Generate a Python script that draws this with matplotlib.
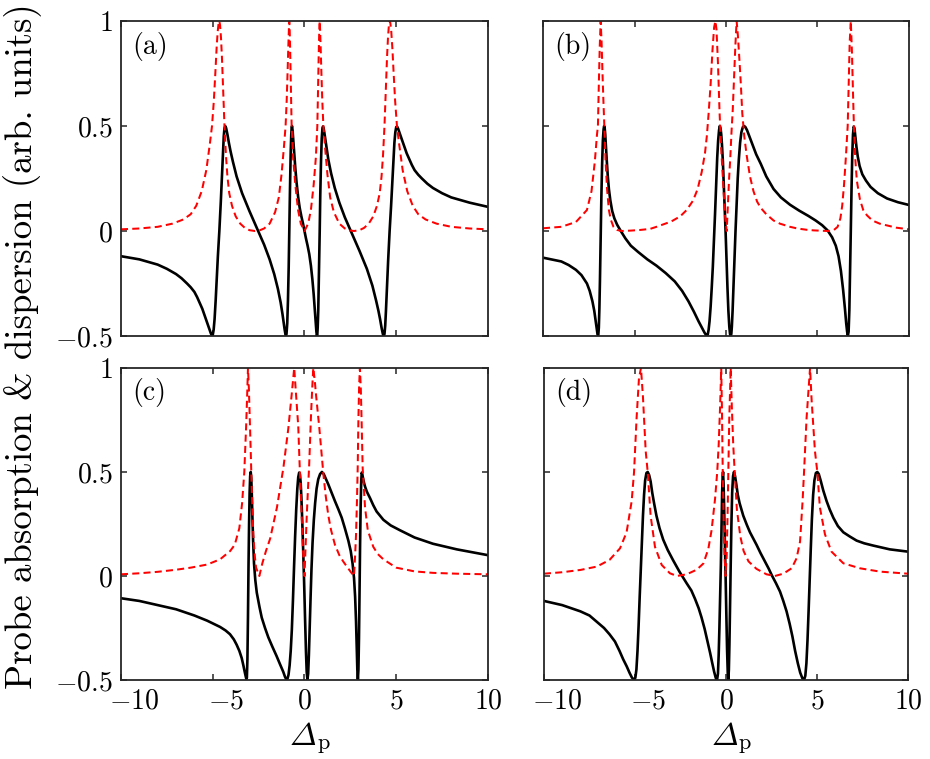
import matplotlib
matplotlib.use("Agg")
import matplotlib.pyplot as plt
import matplotlib.transforms as mtransforms

# ---- curves ----
# (a)
a_x_disp = [-10, -9, -8, -7.5, -7, -6.7, -6.4, -6.2, -6.0, -5.85, -5.7, -5.57, -5.45, -5.35, -5.25, -5.17,
            -5.1, -5.05, -5.0, -4.95, -4.9, -4.84, -4.78, -4.72, -4.64, -4.56, -4.49, -4.44, -4.4, -4.36,
            -4.32, -4.27, -4.2, -4.12, -4.03, -3.9, -3.7, -3.4, -3.0, -2.7, -2.5, -2.2, -1.9, -1.65, -1.45,
            -1.3, -1.2, -1.13, -1.08, -1.04, -1.01, -0.98, -0.94, -0.9, -0.86, -0.83, -0.79, -0.75, -0.72,
            -0.7, -0.68, -0.65, -0.61, -0.56, -0.5, -0.43, -0.35, -0.26, -0.17, -0.08, 0,
            0.08, 0.17, 0.26, 0.35, 0.43, 0.5, 0.56, 0.61, 0.65, 0.68, 0.7, 0.72, 0.75, 0.79, 0.83, 0.86,
            0.9, 0.94, 0.98, 1.01, 1.04, 1.08, 1.13, 1.2, 1.3, 1.45, 1.65, 1.9, 2.2, 2.5, 2.7, 3.0, 3.4,
            3.7, 3.9, 4.03, 4.12, 4.2, 4.27, 4.32, 4.36, 4.4, 4.44, 4.49, 4.56, 4.64, 4.72, 4.78, 4.84, 4.9,
            4.95, 5.0, 5.05, 5.1, 5.17, 5.25, 5.35, 5.45, 5.57, 5.7, 5.85, 6.0, 6.2, 6.4, 6.7, 7, 7.5, 8,
            9, 10]
a_disp = [-0.12, -0.135, -0.16, -0.18, -0.205, -0.225, -0.25, -0.268, -0.29, -0.315, -0.345, -0.37, -0.40,
          -0.425, -0.45, -0.47, -0.488, -0.497, -0.495, -0.47, -0.42, -0.33, -0.22, -0.12, 0.0, 0.14,
          0.28, 0.38, 0.45, 0.49, 0.50, 0.49, 0.46, 0.42, 0.38, 0.33, 0.26, 0.18, 0.095, 0.035, -0.005,
          -0.065, -0.135, -0.205, -0.275, -0.34, -0.395, -0.44, -0.47, -0.49, -0.498, -0.49, -0.44, -0.33,
          -0.17, 0.0, 0.2, 0.38, 0.46, 0.49, 0.50, 0.48, 0.43, 0.37, 0.30, 0.23, 0.165, 0.11, 0.07, 0.035,
          0.0,
          -0.035, -0.07, -0.11, -0.165, -0.23, -0.30, -0.37, -0.43, -0.48, -0.50, -0.49, -0.46, -0.38,
          -0.2, 0.0, 0.17, 0.33, 0.44, 0.49, 0.498, 0.49, 0.47, 0.44, 0.395, 0.34, 0.275, 0.205, 0.135,
          0.065, 0.005, -0.035, -0.095, -0.18, -0.26, -0.33, -0.38, -0.42, -0.46, -0.49, -0.50, -0.49,
          -0.45, -0.38, -0.28, -0.14, 0.0, 0.12, 0.22, 0.33, 0.42, 0.47, 0.495, 0.497, 0.488, 0.47, 0.45,
          0.425, 0.40, 0.37, 0.345, 0.315, 0.29, 0.268, 0.25, 0.225, 0.205, 0.18, 0.16, 0.135, 0.115]
a_x_abs = [-10, -9, -8, -7.2, -6.6, -6.2, -5.9, -5.6, -5.35, -5.15, -5.04, -4.94, -4.86, -4.79, -4.73,
           -4.68, -4.64, -4.6, -4.55, -4.5, -4.44, -4.36, -4.28, -4.2, -4.1, -3.95, -3.75, -3.5, -3.25,
           -3.0, -2.7, -2.45, -2.2, -1.9, -1.6, -1.4, -1.25, -1.12, -1.03, -0.97, -0.92, -0.88, -0.85,
           -0.83, -0.81, -0.78, -0.74, -0.70, -0.62, -0.5, -0.35, -0.2, 0,
           0.2, 0.35, 0.5, 0.62, 0.70, 0.74, 0.78, 0.81, 0.83, 0.85, 0.88, 0.92, 0.97, 1.03, 1.12, 1.25,
           1.4, 1.6, 1.9, 2.2, 2.45, 2.7, 3.0, 3.25, 3.5, 3.75, 3.95, 4.1, 4.2, 4.28, 4.36, 4.44, 4.5,
           4.55, 4.6, 4.64, 4.68, 4.73, 4.79, 4.86, 4.94, 5.04, 5.15, 5.35, 5.6, 5.9, 6.2, 6.6, 7.2, 8, 9,
           10]
a_abs = [0.008, 0.012, 0.02, 0.035, 0.055, 0.08, 0.12, 0.19, 0.29, 0.42, 0.50, 0.62, 0.75, 0.87, 0.95,
         0.99, 1.0, 0.98, 0.92, 0.83, 0.69, 0.50, 0.36, 0.26, 0.18, 0.12, 0.07, 0.035, 0.015, 0.004, 0.0,
         0.003, 0.012, 0.035, 0.09, 0.16, 0.27, 0.40, 0.50, 0.62, 0.76, 0.88, 0.96, 1.0, 0.97, 0.86,
         0.68, 0.50, 0.35, 0.22, 0.10, 0.035, 0.0,
         0.035, 0.10, 0.22, 0.35, 0.50, 0.68, 0.86, 0.97, 1.0, 0.96, 0.88, 0.76, 0.62, 0.50, 0.40, 0.27,
         0.16, 0.09, 0.035, 0.012, 0.003, 0.0, 0.004, 0.015, 0.035, 0.07, 0.12, 0.18, 0.26, 0.36, 0.50,
         0.69, 0.83, 0.92, 0.98, 1.0, 0.99, 0.95, 0.87, 0.75, 0.62, 0.50, 0.42, 0.29, 0.19, 0.12, 0.08,
         0.055, 0.035, 0.02, 0.012, 0.008]

# (b)
b_x_disp = [-10, -9, -8.6, -8.2, -7.9, -7.6, -7.45, -7.3, -7.2, -7.12, -7.06, -7.02, -6.98, -6.95, -6.92,
            -6.89, -6.85, -6.81, -6.77, -6.73, -6.69, -6.66, -6.63, -6.6, -6.56, -6.52, -6.46, -6.4, -6.32,
            -6.22, -6.1, -5.95, -5.75, -5.5, -5.2, -4.8, -4.3, -3.8, -3.3, -2.8, -2.4, -2.05, -1.75, -1.5,
            -1.32, -1.18, -1.1, -1.05, -1.0, -0.95, -0.9, -0.84, -0.78, -0.72, -0.66, -0.6, -0.54, -0.48,
            -0.43, -0.38, -0.34, -0.3, -0.26, -0.22, -0.17, -0.12, -0.07, -0.02, 0.03, 0.08, 0.13, 0.18,
            0.22, 0.26, 0.29, 0.32, 0.36, 0.41, 0.46, 0.52, 0.58, 0.64, 0.7, 0.77, 0.84, 0.92, 0.99, 1.06,
            1.15, 1.28, 1.45, 1.65, 1.9, 2.2, 2.6, 3.0, 3.5, 4.0, 4.5, 4.9, 5.25, 5.55, 5.8, 6.0, 6.15,
            6.28, 6.4, 6.5, 6.57, 6.62, 6.66, 6.7, 6.74, 6.78, 6.82, 6.86, 6.9, 6.94, 6.98, 7.02, 7.07,
            7.13, 7.2, 7.3, 7.45, 7.65, 7.9, 8.3, 8.8, 9.4, 10]
b_disp = [-0.127, -0.145, -0.162, -0.185, -0.21, -0.25, -0.285, -0.335, -0.38, -0.43, -0.47, -0.493,
          -0.495, -0.46, -0.37, -0.24, -0.02, 0.17, 0.32, 0.43, 0.485, 0.50, 0.49, 0.46, 0.40, 0.34,
          0.26, 0.20, 0.145, 0.095, 0.06, 0.03, 0.0, -0.035, -0.07, -0.10, -0.135, -0.165, -0.20, -0.24,
          -0.285, -0.335, -0.385, -0.43, -0.46, -0.483, -0.494, -0.499, -0.494, -0.47, -0.43, -0.36,
          -0.27, -0.17, -0.05, 0.08, 0.22, 0.35, 0.43, 0.48, 0.50, 0.49, 0.46, 0.41, 0.33, 0.22, 0.11,
          -0.01, -0.14, -0.27, -0.38, -0.455, -0.49, -0.50, -0.49, -0.455, -0.38, -0.26, -0.14, 0.0,
          0.13, 0.25, 0.34, 0.42, 0.47, 0.495, 0.50, 0.495, 0.48, 0.45, 0.41, 0.365, 0.32, 0.26, 0.20,
          0.16, 0.125, 0.097, 0.072, 0.05, 0.028, 0.003, -0.03, -0.07, -0.12, -0.19, -0.28, -0.37, -0.44,
          -0.48, -0.497, -0.48, -0.38, -0.20, 0.0, 0.20, 0.36, 0.46, 0.497, 0.49, 0.45, 0.40, 0.355,
          0.31, 0.27, 0.24, 0.21, 0.18, 0.155, 0.137, 0.124]
b_x_abs = [-10, -9, -8.2, -7.6, -7.35, -7.17, -7.05, -7.0, -6.95, -6.9, -6.85, -6.8, -6.75, -6.7, -6.65,
           -6.58, -6.5, -6.4, -6.3, -6.15, -5.95, -5.7, -5.2, -4.7, -4.15, -3.8, -3.0, -2.5, -2.15, -1.8,
           -1.55, -1.33, -1.15, -1.05, -0.95, -0.84, -0.74, -0.65, -0.58, -0.52, -0.44, -0.35, -0.27,
           -0.19, -0.11, -0.04, 0.04, 0.1, 0.17, 0.24, 0.3, 0.37, 0.44, 0.51, 0.58, 0.65, 0.73, 0.81, 0.89,
           1.0, 1.13, 1.31, 1.5, 1.7, 1.9, 2.2, 2.6, 2.95, 3.5, 3.9, 4.4, 4.8, 5.3, 5.6, 5.9, 6.1, 6.25,
           6.35, 6.45, 6.55, 6.65, 6.7, 6.76, 6.82, 6.88, 6.94, 6.99, 7.06, 7.15, 7.32, 7.5, 7.7, 8.0,
           8.4, 9.3, 10]
b_abs = [0.013, 0.02, 0.043, 0.10, 0.19, 0.33, 0.46, 0.50, 0.70, 0.88, 1.0, 0.90, 0.75, 0.62, 0.50,
         0.33, 0.20, 0.10, 0.055, 0.02, 0.005, 0.0, 0.002, 0.005, 0.01, 0.02, 0.045, 0.07, 0.10, 0.145,
         0.20, 0.28, 0.37, 0.45, 0.56, 0.70, 0.86, 0.97, 1.0, 0.96, 0.80, 0.56, 0.40, 0.28, 0.16, 0.06,
         0.0, 0.12, 0.25, 0.36, 0.47, 0.58, 0.73, 0.88, 1.0, 0.93, 0.82, 0.70, 0.56, 0.45, 0.36, 0.26,
         0.19, 0.14, 0.11, 0.08, 0.05, 0.035, 0.02, 0.012, 0.006, 0.003, 0.001, 0.0, 0.005, 0.02, 0.06,
         0.12, 0.22, 0.35, 0.50, 0.68, 0.90, 1.0, 0.86, 0.66, 0.50, 0.35, 0.24, 0.15, 0.10, 0.075, 0.05,
         0.035, 0.016, 0.008]

# (c)
c_x_disp = [-10, -9, -8, -7, -6, -5.3, -4.6, -4.3, -4.06, -3.85, -3.7, -3.55, -3.42, -3.33, -3.26, -3.21,
            -3.17, -3.14, -3.11, -3.08, -3.05, -3.02, -2.99, -2.96, -2.93, -2.9, -2.87, -2.84, -2.8, -2.75,
            -2.68, -2.6, -2.45, -2.33, -2.15, -1.97, -1.75, -1.52, -1.33, -1.16, -1.06, -0.99, -0.93,
            -0.87, -0.81, -0.75, -0.69, -0.63, -0.57, -0.51, -0.45, -0.39, -0.34, -0.29, -0.25, -0.21,
            -0.17, -0.12, -0.07, -0.02, 0.03, 0.08, 0.12, 0.16, 0.2, 0.24, 0.28, 0.33, 0.38, 0.44, 0.51,
            0.58, 0.66, 0.75, 0.85, 0.95, 1.05, 1.15, 1.3, 1.48, 1.66, 1.85, 2.03, 2.2, 2.39, 2.52, 2.62,
            2.7, 2.76, 2.81, 2.85, 2.88, 2.91, 2.94, 2.97, 3.0, 3.03, 3.06, 3.09, 3.12, 3.15, 3.19, 3.24,
            3.3, 3.4, 3.57, 3.75, 3.93, 4.3, 4.7, 5.2, 6.0, 7.0, 8.3, 10]
c_disp = [-0.107, -0.12, -0.14, -0.16, -0.19, -0.215, -0.245, -0.262, -0.28, -0.305, -0.33, -0.36, -0.395,
          -0.43, -0.46, -0.48, -0.495, -0.49, -0.40, -0.20, 0.05, 0.25, 0.40, 0.48, 0.50, 0.47, 0.39,
          0.29, 0.17, 0.06, -0.02, -0.08, -0.15, -0.20, -0.25, -0.295, -0.34, -0.385, -0.425, -0.46,
          -0.485, -0.497, -0.495, -0.475, -0.43, -0.36, -0.26, -0.12, 0.04, 0.19, 0.32, 0.42, 0.475,
          0.497, 0.49, 0.45, 0.38, 0.26, 0.12, -0.03, -0.20, -0.36, -0.46, -0.497, -0.47, -0.38, -0.26,
          -0.11, 0.03, 0.16, 0.27, 0.35, 0.42, 0.465, 0.49, 0.50, 0.49, 0.47, 0.44, 0.40, 0.36, 0.32,
          0.28, 0.23, 0.17, 0.12, 0.06, -0.01, -0.10, -0.22, -0.35, -0.45, -0.497, -0.45, -0.30, -0.08,
          0.15, 0.33, 0.45, 0.497, 0.49, 0.47, 0.45, 0.43, 0.405, 0.375, 0.34, 0.31, 0.27, 0.243, 0.22,
          0.185, 0.155, 0.128, 0.10]
c_x_abs = [-10, -9, -8, -7, -6.2, -5.3, -4.6, -4.05, -3.8, -3.55, -3.4, -3.28, -3.18, -3.12, -3.08, -3.03,
           -2.97, -2.93, -2.88, -2.83, -2.79, -2.7, -2.64, -2.46, -2.3, -2.1, -1.87, -1.5, -1.15, -0.88,
           -0.7, -0.56, -0.45, -0.34, -0.25, -0.15, -0.07, 0.0, 0.06, 0.12, 0.18, 0.25, 0.35, 0.42, 0.48,
           0.56, 0.63, 0.72, 0.81, 0.92, 1.03, 1.15, 1.3, 1.45, 1.66, 1.9, 2.11, 2.35, 2.57, 2.7, 2.76,
           2.81, 2.86, 2.9, 2.94, 2.98, 3.02, 3.07, 3.11, 3.17, 3.3, 3.45, 3.75, 4.0, 4.3, 5.0, 6.0, 7.0,
           8.3, 10]
c_abs = [0.008, 0.013, 0.02, 0.03, 0.04, 0.055, 0.08, 0.12, 0.15, 0.23, 0.35, 0.50, 0.72, 0.88, 1.0,
         0.90, 0.72, 0.60, 0.44, 0.30, 0.20, 0.09, 0.04, 0.0, 0.06, 0.12, 0.18, 0.33, 0.52, 0.71, 0.87,
         1.0, 0.86, 0.72, 0.50, 0.28, 0.10, 0.0, 0.14, 0.28, 0.40, 0.52, 0.76, 0.90, 1.0, 0.94, 0.87,
         0.79, 0.71, 0.60, 0.49, 0.39, 0.29, 0.22, 0.15, 0.10, 0.07, 0.04, 0.014, 0.0, 0.10, 0.20,
         0.36, 0.52, 0.76, 0.92, 1.0, 0.90, 0.76, 0.52, 0.33, 0.22, 0.14, 0.105, 0.08, 0.04, 0.022,
         0.015, 0.011, 0.008]

# (d)
d_x_disp = [-10, -9, -8, -7.5, -7.1, -6.7, -6.4, -6.1, -5.85, -5.65, -5.45, -5.3, -5.17, -5.07, -4.98,
            -4.92, -4.86, -4.8, -4.74, -4.68, -4.62, -4.56, -4.5, -4.44, -4.37, -4.3, -4.22, -4.14, -4.05,
            -3.95, -3.82, -3.65, -3.45, -3.2, -2.9, -2.55, -2.16, -1.9, -1.7, -1.5, -1.34, -1.17, -1.0,
            -0.87, -0.75, -0.65, -0.56, -0.49, -0.44, -0.4, -0.36, -0.32, -0.28, -0.24, -0.21, -0.18,
            -0.16, -0.13, -0.1, -0.06, -0.02, 0.02, 0.06, 0.1, 0.13, 0.16, 0.19, 0.22, 0.26, 0.3, 0.34,
            0.39, 0.44, 0.5, 0.57, 0.65, 0.75, 0.95, 1.15, 1.32, 1.5, 1.68, 1.9, 2.14, 2.35, 2.51, 2.75,
            2.97, 3.15, 3.33, 3.5, 3.65, 3.8, 3.95, 4.08, 4.2, 4.29, 4.36, 4.42, 4.48, 4.54, 4.6, 4.66,
            4.72, 4.79, 4.86, 4.94, 5.02, 5.1, 5.2, 5.35, 5.53, 5.7, 5.9, 6.15, 6.45, 6.8, 7.18, 7.6, 8.1,
            9.0, 10]
d_disp = [-0.12, -0.14, -0.17, -0.19, -0.22, -0.25, -0.28, -0.315, -0.36, -0.40, -0.435, -0.465, -0.488,
          -0.498, -0.49, -0.45, -0.36, -0.24, -0.10, 0.03, 0.16, 0.29, 0.39, 0.46, 0.495, 0.50, 0.485,
          0.455, 0.40, 0.35, 0.29, 0.23, 0.175, 0.125, 0.075, 0.02, -0.035, -0.07, -0.11, -0.155, -0.20,
          -0.255, -0.32, -0.37, -0.42, -0.46, -0.49, -0.50, -0.47, -0.38, -0.25, -0.10, 0.05, 0.25, 0.40,
          0.48, 0.50, 0.44, 0.33, 0.16, 0.0, -0.18, -0.35, -0.47, -0.50, -0.45, -0.33, -0.17, 0.05, 0.25,
          0.40, 0.48, 0.50, 0.48, 0.44, 0.39, 0.35, 0.29, 0.245, 0.21, 0.18, 0.15, 0.11, 0.07, 0.035,
          0.005, -0.035, -0.075, -0.12, -0.17, -0.23, -0.29, -0.36, -0.42, -0.465, -0.492, -0.50, -0.48,
          -0.42, -0.31, -0.17, -0.02, 0.13, 0.27, 0.39, 0.46, 0.495, 0.50, 0.49, 0.46, 0.41, 0.36, 0.32,
          0.28, 0.24, 0.21, 0.19, 0.17, 0.157, 0.146, 0.128, 0.117]
d_x_abs = [-10, -9, -8, -7.1, -6.4, -5.82, -5.46, -5.18, -5.05, -4.91, -4.78, -4.67, -4.56, -4.41, -4.3,
           -4.14, -3.9, -3.53, -3.08, -2.7, -2.16, -1.61, -1.24, -0.97, -0.79, -0.6, -0.48, -0.4, -0.32,
           -0.26, -0.22, -0.18, -0.13, -0.08, -0.02, 0.04, 0.09, 0.13, 0.18, 0.26, 0.32, 0.4, 0.48, 0.6,
           0.79, 0.97, 1.24, 1.68, 2.23, 2.69, 3.15, 3.61, 3.88, 4.07, 4.21, 4.29, 4.43, 4.62, 4.71,
           4.89, 5.02, 5.16, 5.44, 5.8, 6.45, 7.36, 8.46, 10]
d_abs = [0.011, 0.018, 0.029, 0.045, 0.077, 0.133, 0.21, 0.36, 0.50, 0.76, 0.95, 1.0, 0.86, 0.60, 0.50,
         0.29, 0.14, 0.053, 0.013, 0.0, 0.008, 0.03, 0.06, 0.13, 0.22, 0.37, 0.50, 0.63, 0.82, 1.0,
         0.80, 0.52, 0.28, 0.10, 0.0, 0.10, 0.30, 0.50, 0.75, 1.0, 0.82, 0.63, 0.50, 0.32, 0.19, 0.12,
         0.07, 0.034, 0.008, 0.0, 0.011, 0.037, 0.085, 0.165, 0.36, 0.50, 0.76, 1.0, 0.84, 0.60, 0.50,
         0.33, 0.20, 0.117, 0.061, 0.037, 0.021, 0.011]

panel_tags = ['(a)', '(b)', '(c)', '(d)']
x_ticks = [-10, -5, 0, 5, 10]
x_ticklabels = [r'$-10$', r'$-5$', r'$0$', r'$5$', r'$10$']
y_ticks = [-0.5, 0, 0.5, 1]
y_ticklabels = [r'$-0.5$', r'$0$', r'$0.5$', r'$1$']

plt.rcParams['mathtext.fontset'] = 'cm'
plt.rcParams['font.family'] = 'serif'
plt.rcParams['font.serif'] = ['cmr10', 'DejaVu Serif']
plt.rcParams['axes.formatter.use_mathtext'] = True

spine_col = '#262626'
fig = plt.figure(figsize=(9.3, 7.59), dpi=100)

rects = [[0.1301, 0.5573, 0.3946, 0.4150],
         [0.5839, 0.5573, 0.3935, 0.4150],
         [0.1301, 0.1041, 0.3946, 0.4111],
         [0.5849, 0.1041, 0.3914, 0.4111]]
curves = [(a_x_disp, a_disp, a_x_abs, a_abs),
          (b_x_disp, b_disp, b_x_abs, b_abs),
          (c_x_disp, c_disp, c_x_abs, c_abs),
          (d_x_disp, d_disp, d_x_abs, d_abs)]

for i, (rect, (xd, yd, xa, ya)) in enumerate(zip(rects, curves)):
    ax = fig.add_axes(rect)
    ax.plot(xd, yd, color='k', lw=1.9, solid_joinstyle='round')
    ax.plot(xa, ya, color='r', lw=1.45, dashes=(3.5, 2.1))
    ax.set_xlim(-10, 10)
    ax.set_ylim(-0.5, 1)
    for s in ax.spines.values():
        s.set_color(spine_col)
        s.set_linewidth(1.3)
    ax.tick_params(direction='in', length=4, width=1.1, color=spine_col, top=True, right=True,
                   labelsize=20, pad=6)
    ax.set_xticks(x_ticks)
    ax.set_yticks(y_ticks)
    if i >= 2:
        ax.set_xticklabels(x_ticklabels)
        # negative labels sit a bit to the right in the original
        for lab, v in zip(ax.get_xticklabels(), x_ticks):
            if v < 0:
                lab.set_transform(lab.get_transform() +
                                  mtransforms.ScaledTranslation(0.13, 0, fig.dpi_scale_trans))
    else:
        ax.set_xticklabels([])
    if i % 2 == 0:
        ax.set_yticklabels(y_ticklabels)
    else:
        ax.set_yticklabels([])
    ax.text(0.03, 0.92, panel_tags[i], transform=ax.transAxes, fontsize=20,
            ha='left', va='center')

fig.text(0.024, 0.544, 'Probe absorption & dispersion (arb. units)',
         rotation=90, ha='center', va='center', fontsize=26.5)

# x label: italic capital Delta (cmmi10 slot) with roman subscript p
for x0 in [290 / 930, 711.5 / 930]:
    fig.text(x0, 1 - 745 / 759, '\u00a2', family='cmmi10', fontsize=23, ha='left', va='baseline')
    fig.text(x0 + 27 / 930, 1 - 749 / 759, 'p', family='cmr10', fontsize=16, ha='left', va='baseline')

fig.savefig('out.png', dpi=100)
